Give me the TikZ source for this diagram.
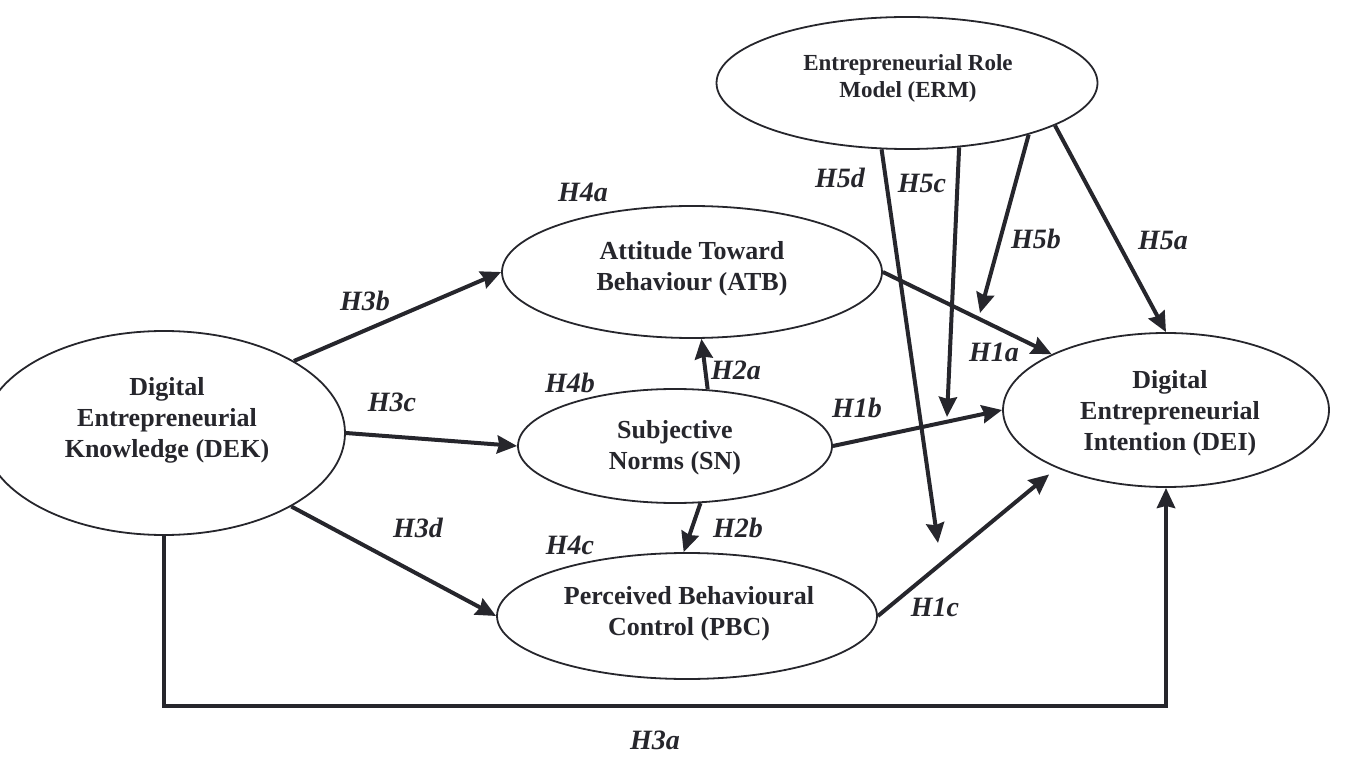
\documentclass[tikz,border=0pt]{standalone}
\usepackage{fontspec}
\setmainfont{Liberation Serif}
\usetikzlibrary{shapes.geometric,arrows.meta}
\definecolor{ink}{RGB}{38,38,44}
\begin{document}
\begin{tikzpicture}[x=1pt,y=-1pt,
  ell/.style={ellipse,draw=ink,line width=1.8pt,inner sep=0pt},
  txt/.style={font=\fontsize{26}{31}\selectfont\bfseries,text=ink,align=center},
  txts/.style={font=\fontsize{23}{27}\selectfont\bfseries,text=ink,align=center},
  lab/.style={font=\fontsize{28}{30}\selectfont\bfseries\itshape,text=ink},
  arr/.style={draw=ink,line width=4pt,-{Stealth[length=20pt,width=18pt,inset=2pt]}}]
\useasboundingbox (0,0) rectangle (1347,767);
% ellipses
\node[ell,minimum width=362pt,minimum height=204pt] (dek) at (164,433) {};
\node[ell,minimum width=380pt,minimum height=132pt] (atb) at (692,272) {};
\node[ell,minimum width=314pt,minimum height=114pt] (sn)  at (675,446) {};
\node[ell,minimum width=380pt,minimum height=126pt] (pbc) at (687,616) {};
\node[ell,minimum width=326pt,minimum height=154pt] (dei) at (1166,410) {};
\node[ell,minimum width=381pt,minimum height=132pt] (erm) at (907,83) {};
% texts
\node[txt]  (dekT) at (167,420) {Digital\\Entrepreneurial\\Knowledge (DEK)};
\node[txt]  (atbT) at (692,269) {Attitude Toward\\Behaviour (ATB)};
\node[txt]  (snT)  at (675,448) {Subjective\\Norms (SN)};
\node[txt]  (pbcT) at (689,614) {Perceived Behavioural\\Control (PBC)};
\node[txt]  (deiT) at (1170,413) {Digital\\Entrepreneurial\\Intention (DEI)};
\node[txts] (ermT) at (908,78) {Entrepreneurial Role\\Model (ERM)};
% free ends
\coordinate (h5bE) at (980,313);
\coordinate (h5cE) at (947,417);
\coordinate (h5dE) at (938,543);
\coordinate (h3aY) at (0,706);
% connectors
\draw[arr] (dek.29) -- (atb.west);
\draw[arr] (dek.0) -- (sn.west);
\draw[arr] (dek.-30) -- (pbc.west);
\draw[arr,line width=4.5pt] (dek.south) -- (dek.south |- h3aY) -| (dei.south);
\draw[arr] (sn.60) -- (atb.-82);
\draw[arr] (sn.-66) -- (pbc.93);
\draw[arr] (atb.east) -- (dei.154);
\draw[arr] (sn.east) -- (dei.west);
\draw[arr,shorten >=10pt] (pbc.east) -- (dei.208);
\draw[arr] (erm.-16) -- (dei.north);
\draw[arr] (erm.-23.5) -- (h5bE);
\draw[arr] (erm.-51.4) -- (h5cE);
\draw[arr] (erm.-111) -- (h5dE);
% labels
\node[lab] (l4a) at (583,192) {H4a};
\node[lab] (l3b) at (365,301) {H3b};
\node[lab] (l3c) at (392,402) {H3c};
\node[lab] (l4b) at (570,383) {H4b};
\node[lab] (l2a) at (736,370) {H2a};
\node[lab] (l1b) at (857,408) {H1b};
\node[lab] (l1a) at (994,352) {H1a};
\node[lab] (l5d) at (840,178) {H5d};
\node[lab] (l5c) at (922,183) {H5c};
\node[lab] (l5b) at (1036,239) {H5b};
\node[lab] (l5a) at (1163,240) {H5a};
\node[lab] (l3d) at (418,528) {H3d};
\node[lab] (l2b) at (738,528) {H2b};
\node[lab] (l4c) at (570,545) {H4c};
\node[lab] (l1c) at (935,607) {H1c};
\node[lab] (l3a) at (655,740) {H3a};
\end{tikzpicture}
\end{document}
